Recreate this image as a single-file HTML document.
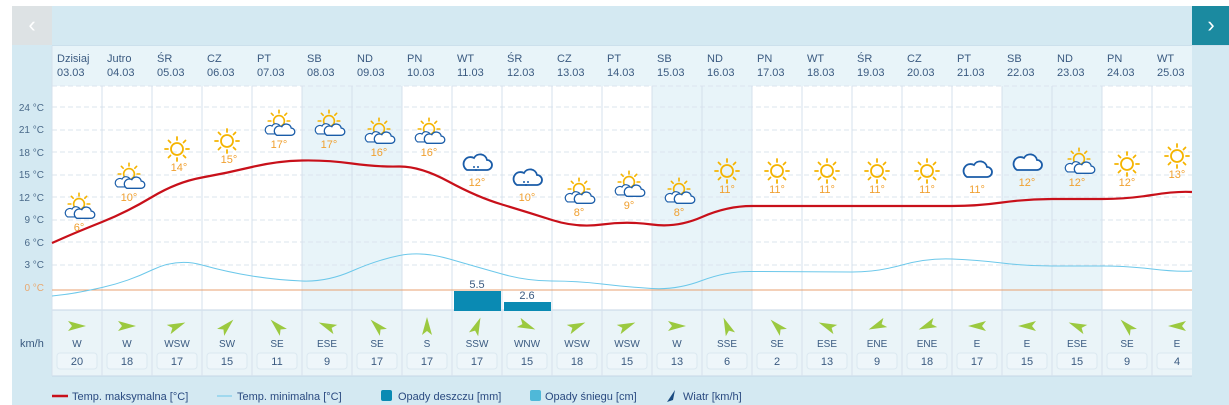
<!DOCTYPE html>
<html><head><meta charset="utf-8"><style>
html,body{margin:0;padding:0;background:#fff;}
svg{display:block;font-family:"Liberation Sans",sans-serif;}
</style></head><body>
<svg width="1229" height="405" viewBox="0 0 1229 405" xmlns="http://www.w3.org/2000/svg">
<defs>
<g id="sun"><circle r="6" fill="none" stroke="#f5b400" stroke-width="1.8"/>
<g stroke="#f5b400" stroke-width="1.8" stroke-linecap="round"><line x1="0" y1="-9" x2="0" y2="-12"/><line x1="0" y1="9" x2="0" y2="12"/><line x1="9" y1="0" x2="12" y2="0"/><line x1="-9" y1="0" x2="-12" y2="0"/><line x1="6.5" y1="-6.5" x2="8.5" y2="-8.5"/><line x1="-6.5" y1="-6.5" x2="-8.5" y2="-8.5"/><line x1="6.5" y1="6.5" x2="8.5" y2="8.5"/><line x1="-6.5" y1="6.5" x2="-8.5" y2="8.5"/></g></g>
<path id="cl" d="M-10,6 h20 a5,5 0 0 0 0-10 a7,7 0 0 0 -13,-2 a5,5 0 0 0 -7,12z" fill="#fff" stroke="#1a5ca8" stroke-width="1.8"/>
<g id="sc"><g transform="translate(0,-5) scale(0.9)"><use href="#sun"/></g><g transform="translate(-5,4) scale(0.65)"><use href="#cl"/></g><g transform="translate(5,5) scale(0.72)"><use href="#cl"/></g></g>
<g id="rain"><use href="#cl"/><g fill="#1a5ca8"><circle cx="-3" cy="3" r="1"/><circle cx="1" cy="3" r="1"/><circle cx="-1" cy="6" r="1"/></g></g>
<path id="arr" d="M-9,-5 L9,0 L-9,5 L-5,0 z" fill="#9bc93f"/>
<g id="box"><rect x="-20" y="0" width="40" height="16" rx="3" fill="#eef6fa" stroke="#dbe8f0"/></g>
</defs>
<rect x="12" y="6" width="1217" height="399" fill="#d4e9f2"/>
<rect x="12" y="6" width="40" height="39" fill="#dde2e4"/>
<text x="32" y="32" font-size="22" fill="#fff" text-anchor="middle">&#8249;</text>
<rect x="1192" y="6" width="37" height="39" fill="#1b8aa0"/>
<text x="1211" y="32" font-size="22" fill="#fff" text-anchor="middle">&#8250;</text>
<line x1="52" y1="46" x2="1229" y2="46" stroke="#c5d6e6"/>
<rect x="52" y="46" width="1140" height="40" fill="#e8f4f9"/>
<rect x="52" y="86" width="1140" height="224" fill="#fff"/>
<g fill="#e8f4f9"><rect x="302" y="86" width="100" height="224"/><rect x="652" y="86" width="100" height="224"/><rect x="1002" y="86" width="100" height="224"/></g>
<rect x="52" y="310" width="1140" height="66" fill="#eaf4f8"/>
<line x1="52" y1="376" x2="1192" y2="376" stroke="#c5d6e6"/>
<line x1="52" y1="310" x2="1192" y2="310" stroke="#c5d6e6"/>
<g stroke="#dbe4ee" stroke-dasharray="5,3">
<line x1="52" y1="86" x2="1192" y2="86"/><line x1="52" y1="107" x2="1192" y2="107"/><line x1="52" y1="130" x2="1192" y2="130"/><line x1="52" y1="152" x2="1192" y2="152"/><line x1="52" y1="175" x2="1192" y2="175"/><line x1="52" y1="197" x2="1192" y2="197"/><line x1="52" y1="220" x2="1192" y2="220"/><line x1="52" y1="242" x2="1192" y2="242"/><line x1="52" y1="265" x2="1192" y2="265"/>
</g>
<g stroke="#d5e1ec">
<line x1="52" y1="46" x2="52" y2="376"/><line x1="102" y1="86" x2="102" y2="376"/><line x1="152" y1="86" x2="152" y2="376"/><line x1="202" y1="86" x2="202" y2="376"/><line x1="252" y1="86" x2="252" y2="376"/><line x1="302" y1="86" x2="302" y2="376"/><line x1="352" y1="86" x2="352" y2="376"/><line x1="402" y1="86" x2="402" y2="376"/><line x1="452" y1="86" x2="452" y2="376"/><line x1="502" y1="86" x2="502" y2="376"/><line x1="552" y1="86" x2="552" y2="376"/><line x1="602" y1="86" x2="602" y2="376"/><line x1="652" y1="86" x2="652" y2="376"/><line x1="702" y1="86" x2="702" y2="376"/><line x1="752" y1="86" x2="752" y2="376"/><line x1="802" y1="86" x2="802" y2="376"/><line x1="852" y1="86" x2="852" y2="376"/><line x1="902" y1="86" x2="902" y2="376"/><line x1="952" y1="86" x2="952" y2="376"/><line x1="1002" y1="86" x2="1002" y2="376"/><line x1="1052" y1="86" x2="1052" y2="376"/><line x1="1102" y1="86" x2="1102" y2="376"/><line x1="1152" y1="86" x2="1152" y2="376"/>
</g>
<line x1="52" y1="290" x2="1192" y2="290" stroke="#e8a070" stroke-width="1"/>
<g font-size="10" fill="#4a6a8a" text-anchor="end">
<text x="44" y="111">24 °C</text><text x="44" y="133">21 °C</text><text x="44" y="156">18 °C</text><text x="44" y="178">15 °C</text><text x="44" y="201">12 °C</text><text x="44" y="223">9 °C</text><text x="44" y="246">6 °C</text><text x="44" y="268">3 °C</text><text x="44" y="291" fill="#e8a870">0 °C</text>
</g>
<text x="20" y="347" font-size="11" fill="#3a5a80">km/h</text>
<g font-size="11" fill="#3a5a80">
<text x="57" y="62">Dzisiaj</text><text x="57" y="76">03.03</text>
<text x="107" y="62">Jutro</text><text x="107" y="76">04.03</text>
<text x="157" y="62">ŚR</text><text x="157" y="76">05.03</text>
<text x="207" y="62">CZ</text><text x="207" y="76">06.03</text>
<text x="257" y="62">PT</text><text x="257" y="76">07.03</text>
<text x="307" y="62">SB</text><text x="307" y="76">08.03</text>
<text x="357" y="62">ND</text><text x="357" y="76">09.03</text>
<text x="407" y="62">PN</text><text x="407" y="76">10.03</text>
<text x="457" y="62">WT</text><text x="457" y="76">11.03</text>
<text x="507" y="62">ŚR</text><text x="507" y="76">12.03</text>
<text x="557" y="62">CZ</text><text x="557" y="76">13.03</text>
<text x="607" y="62">PT</text><text x="607" y="76">14.03</text>
<text x="657" y="62">SB</text><text x="657" y="76">15.03</text>
<text x="707" y="62">ND</text><text x="707" y="76">16.03</text>
<text x="757" y="62">PN</text><text x="757" y="76">17.03</text>
<text x="807" y="62">WT</text><text x="807" y="76">18.03</text>
<text x="857" y="62">ŚR</text><text x="857" y="76">19.03</text>
<text x="907" y="62">CZ</text><text x="907" y="76">20.03</text>
<text x="957" y="62">PT</text><text x="957" y="76">21.03</text>
<text x="1007" y="62">SB</text><text x="1007" y="76">22.03</text>
<text x="1057" y="62">ND</text><text x="1057" y="76">23.03</text>
<text x="1107" y="62">PN</text><text x="1107" y="76">24.03</text>
<text x="1157" y="62">WT</text><text x="1157" y="76">25.03</text>
</g>
<rect x="454" y="291" width="47" height="20" fill="#0a8ab3"/>
<rect x="504" y="302" width="47" height="9" fill="#0a8ab3"/>
<text x="477" y="288" font-size="11" fill="#3a5a80" text-anchor="middle">5.5</text>
<text x="527" y="299" font-size="11" fill="#3a5a80" text-anchor="middle">2.6</text>
<path fill="none" stroke="#6cc8ea" stroke-width="1" d="M52,296 L64.5,294.5 Q77,293 102,287.5 Q127,282 152,270 Q177,258 202,265 Q227,272 252,276 Q277,280 302,281 Q327,282 352,271 Q377,260 399.5,255.5 Q422,251 449.5,259 Q477,267 502,274 Q527,281 552,281 Q577,281 602,284 Q627,287 652,288.5 Q677,290 702,280.5 Q727,271 752,271.5 L852,272 Q877,272 902,265 Q927,258 952,259 Q977,260 1002,263 Q1027,266 1052,266 L1102,266 Q1127,266 1152,269 Q1177,272 1192,271"/>
<path fill="none" stroke="#c8101a" stroke-width="2.2" d="M52,243 L64.5,237.5 Q77,232 102,222 Q127,212 152,197 Q177,182 202,177.5 Q227,173 252,167 Q277,161 302,160.5 Q327,160 352,163.5 Q377,167 398.5,166.5 Q420,166 448.5,181.5 Q477,197 502,204.5 Q527,212 552,220 Q577,228 602,224.5 Q627,221 652,224.5 Q677,228 702,217 Q727,206 752,206 L952,206 Q977,206 1002,202.5 Q1027,199 1052,199 L1102,199 Q1127,199 1152,195 Q1177,191 1192,192"/>
<use href="#sc" transform="translate(79,209)"/>
<use href="#sc" transform="translate(129,179)"/>
<use href="#sun" transform="translate(177,149)"/>
<use href="#sun" transform="translate(227,141)"/>
<use href="#sc" transform="translate(279,126)"/>
<use href="#sc" transform="translate(329,126)"/>
<use href="#sc" transform="translate(379,134)"/>
<use href="#sc" transform="translate(429,134)"/>
<use href="#rain" transform="translate(477,164)"/>
<use href="#rain" transform="translate(527,179)"/>
<use href="#sc" transform="translate(579,194)"/>
<use href="#sc" transform="translate(629,187)"/>
<use href="#sc" transform="translate(679,194)"/>
<use href="#sun" transform="translate(727,171)"/>
<use href="#sun" transform="translate(777,171)"/>
<use href="#sun" transform="translate(827,171)"/>
<use href="#sun" transform="translate(877,171)"/>
<use href="#sun" transform="translate(927,171)"/>
<use href="#cl" transform="translate(977,171)"/>
<use href="#cl" transform="translate(1027,164)"/>
<use href="#sc" transform="translate(1079,164)"/>
<use href="#sun" transform="translate(1127,164)"/>
<use href="#sun" transform="translate(1177,156)"/>
<g font-size="11" fill="#f0a030" text-anchor="middle">
<text x="79" y="231">6°</text><text x="129" y="201">10°</text><text x="179" y="171">14°</text><text x="229" y="163">15°</text><text x="279" y="148">17°</text><text x="329" y="148">17°</text><text x="379" y="156">16°</text><text x="429" y="156">16°</text><text x="477" y="186">12°</text><text x="527" y="201">10°</text><text x="579" y="216">8°</text><text x="629" y="209">9°</text><text x="679" y="216">8°</text><text x="727" y="193">11°</text><text x="777" y="193">11°</text><text x="827" y="193">11°</text><text x="877" y="193">11°</text><text x="927" y="193">11°</text><text x="977" y="193">11°</text><text x="1027" y="186">12°</text><text x="1077" y="186">12°</text><text x="1127" y="186">12°</text><text x="1177" y="178">13°</text>
</g>
<use href="#box" transform="translate(77,353)"/><use href="#box" transform="translate(127,353)"/><use href="#box" transform="translate(177,353)"/><use href="#box" transform="translate(227,353)"/><use href="#box" transform="translate(277,353)"/><use href="#box" transform="translate(327,353)"/><use href="#box" transform="translate(377,353)"/><use href="#box" transform="translate(427,353)"/><use href="#box" transform="translate(477,353)"/><use href="#box" transform="translate(527,353)"/><use href="#box" transform="translate(577,353)"/><use href="#box" transform="translate(627,353)"/><use href="#box" transform="translate(677,353)"/><use href="#box" transform="translate(727,353)"/><use href="#box" transform="translate(777,353)"/><use href="#box" transform="translate(827,353)"/><use href="#box" transform="translate(877,353)"/><use href="#box" transform="translate(927,353)"/><use href="#box" transform="translate(977,353)"/><use href="#box" transform="translate(1027,353)"/><use href="#box" transform="translate(1077,353)"/><use href="#box" transform="translate(1127,353)"/><use href="#box" transform="translate(1177,353)"/>
<use href="#arr" transform="translate(77,326) rotate(0)"/>
<use href="#arr" transform="translate(127,326) rotate(0)"/>
<use href="#arr" transform="translate(177,326) rotate(-22.5)"/>
<use href="#arr" transform="translate(227,326) rotate(-45)"/>
<use href="#arr" transform="translate(277,326) rotate(225)"/>
<use href="#arr" transform="translate(327,326) rotate(202.5)"/>
<use href="#arr" transform="translate(377,326) rotate(225)"/>
<use href="#arr" transform="translate(427,326) rotate(270)"/>
<use href="#arr" transform="translate(477,326) rotate(292.5)"/>
<use href="#arr" transform="translate(527,326) rotate(22.5)"/>
<use href="#arr" transform="translate(577,326) rotate(-22.5)"/>
<use href="#arr" transform="translate(627,326) rotate(-22.5)"/>
<use href="#arr" transform="translate(677,326) rotate(0)"/>
<use href="#arr" transform="translate(727,326) rotate(247.5)"/>
<use href="#arr" transform="translate(777,326) rotate(225)"/>
<use href="#arr" transform="translate(827,326) rotate(202.5)"/>
<use href="#arr" transform="translate(877,326) rotate(157.5)"/>
<use href="#arr" transform="translate(927,326) rotate(157.5)"/>
<use href="#arr" transform="translate(977,326) rotate(180)"/>
<use href="#arr" transform="translate(1027,326) rotate(180)"/>
<use href="#arr" transform="translate(1077,326) rotate(202.5)"/>
<use href="#arr" transform="translate(1127,326) rotate(225)"/>
<use href="#arr" transform="translate(1177,326) rotate(180)"/>
<g font-size="10" fill="#3a5a80" text-anchor="middle">
<text x="77" y="347">W</text><text x="127" y="347">W</text><text x="177" y="347">WSW</text><text x="227" y="347">SW</text><text x="277" y="347">SE</text><text x="327" y="347">ESE</text><text x="377" y="347">SE</text><text x="427" y="347">S</text><text x="477" y="347">SSW</text><text x="527" y="347">WNW</text><text x="577" y="347">WSW</text><text x="627" y="347">WSW</text><text x="677" y="347">W</text><text x="727" y="347">SSE</text><text x="777" y="347">SE</text><text x="827" y="347">ESE</text><text x="877" y="347">ENE</text><text x="927" y="347">ENE</text><text x="977" y="347">E</text><text x="1027" y="347">E</text><text x="1077" y="347">ESE</text><text x="1127" y="347">SE</text><text x="1177" y="347">E</text>
</g>
<g font-size="11" fill="#3a5a80" text-anchor="middle">
<text x="77" y="365">20</text><text x="127" y="365">18</text><text x="177" y="365">17</text><text x="227" y="365">15</text><text x="277" y="365">11</text><text x="327" y="365">9</text><text x="377" y="365">17</text><text x="427" y="365">17</text><text x="477" y="365">17</text><text x="527" y="365">15</text><text x="577" y="365">18</text><text x="627" y="365">15</text><text x="677" y="365">13</text><text x="727" y="365">6</text><text x="777" y="365">2</text><text x="827" y="365">13</text><text x="877" y="365">9</text><text x="927" y="365">18</text><text x="977" y="365">17</text><text x="1027" y="365">15</text><text x="1077" y="365">15</text><text x="1127" y="365">9</text><text x="1177" y="365">4</text>
</g>
<rect x="1192" y="46" width="37" height="359" fill="#d4e9f2"/>
<g font-size="11" fill="#2a4a80">
<line x1="52" y1="396" x2="68" y2="396" stroke="#c8101a" stroke-width="2.5"/><text x="72" y="400">Temp. maksymalna [°C]</text>
<line x1="217" y1="396" x2="232" y2="396" stroke="#6cc8ea" stroke-width="1"/><text x="237" y="400">Temp. minimalna [°C]</text>
<rect x="381" y="390" width="11" height="11" rx="2" fill="#0a8ab3"/><text x="398" y="400">Opady deszczu [mm]</text>
<rect x="530" y="390" width="11" height="11" rx="2" fill="#4fb8d8"/><text x="545" y="400">Opady śniegu [cm]</text>
<path d="M667,402 L675,390 L673,400 z" fill="#1a4a80"/><text x="683" y="400">Wiatr [km/h]</text>
</g>
</svg>
</body></html>
